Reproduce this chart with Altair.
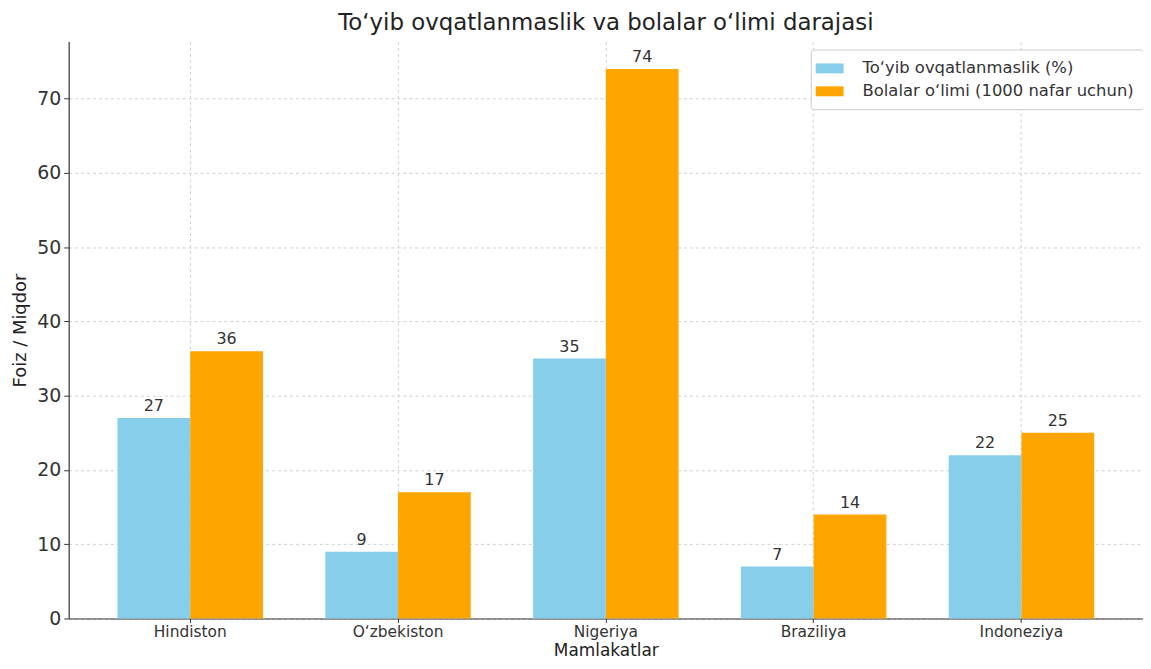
import altair as alt
import pandas as pd

countries = ["Hindiston", "O‘zbekiston", "Nigeriya", "Braziliya", "Indoneziya"]
malnutrition = [27, 9, 35, 7, 22]
mortality = [36, 17, 74, 14, 25]
series_names = ["To‘yib ovqatlanmaslik (%)", "Bolalar o‘limi (1000 nafar uchun)"]
colors = ["#87CEEB", "#FFA500"]

rows = []
for c, m, d in zip(countries, malnutrition, mortality):
    rows.append({"country": c, "series": series_names[0], "value": m})
    rows.append({"country": c, "series": series_names[1], "value": d})
df = pd.DataFrame(rows)

font = "DejaVu Sans"

x = alt.X("country:N", sort=countries,
          scale=alt.Scale(paddingInner=0.3, paddingOuter=0.235),
          axis=alt.Axis(title="Mamlakatlar", labelAngle=0, labelFontSize=15.5,
                        titleFontSize=17, titleFontWeight="normal", titlePadding=3, grid=True,
                        gridDash=[3, 3], gridColor="#d0d0d0", tickColor="#333",
                        domainColor="#333", labelColor="#333", titleColor="#222",
                        labelFont=font, titleFont=font, tickSize=4, labelPadding=2))
y = alt.Y("value:Q", scale=alt.Scale(domain=[0, 77.7], nice=False),
          axis=alt.Axis(title="Foiz / Miqdor", values=list(range(0, 80, 10)),
                        labelFontSize=19, titleFontSize=18, titleFontWeight="normal", grid=True,
                        gridDash=[3, 3], gridColor="#d0d0d0", tickColor="#333",
                        domainColor="#333", labelColor="#333", titleColor="#222",
                        labelFont=font, titleFont=font, tickSize=5, labelPadding=3,
                        titlePadding=7))
xo = alt.XOffset("series:N", sort=series_names)

base = alt.Chart(df)
bars = base.mark_bar().encode(
    x=x, y=y, xOffset=xo,
    color=alt.Color("series:N", sort=series_names,
                    scale=alt.Scale(domain=series_names, range=colors),
                    legend=alt.Legend(title=None, orient="none",
                                      legendX=746, legendY=8,
                                      symbolType="M-1.4,-0.5H1.4V0.5H-1.4Z",
                                      symbolSize=400,
                                      labelFontSize=16.5, labelFont=font,
                                      labelColor="#333", labelLimit=400,
                                      labelOffset=23, rowPadding=4,
                                      strokeColor="#cccccc", fillColor="white",
                                      padding=9, cornerRadius=3,
                                      symbolStrokeWidth=0))
)
labels = base.mark_text(dy=-12, fontSize=16, font=font, color="#333").encode(
    x=alt.X("country:N", sort=countries), y="value:Q", xOffset=xo,
    text="value:Q"
)

chart = (bars + labels).properties(
    width=1080, height=580,
    autosize=alt.AutoSizeParams(type="none"),
    padding={"left": 61, "top": 32, "right": 0, "bottom": 41},
    title=alt.TitleParams("To‘yib ovqatlanmaslik va bolalar o‘limi darajasi",
                          fontSize=23, font=font, fontWeight="normal",
                          color="#222", offset=7)
).configure_view(stroke=None).configure_axis(domainWidth=1.2)

chart.save("out.html", embed_options={"renderer": "svg", "actions": False})
